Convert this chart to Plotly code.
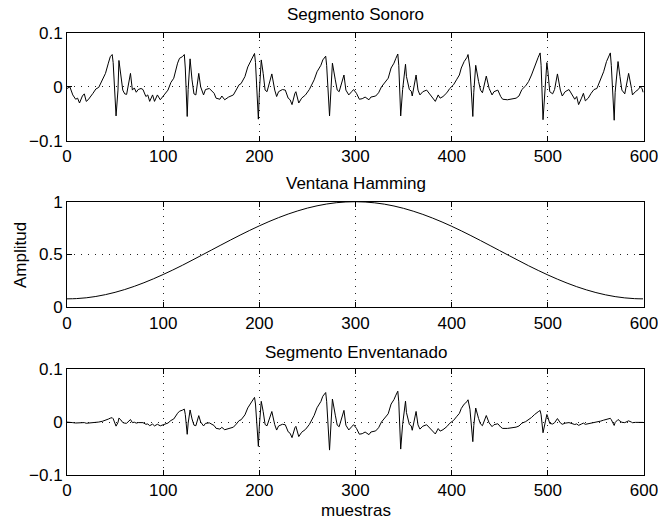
import plotly.graph_objects as go

# ---------------- data ----------------
muestras = [
    0, 3, 6, 9, 11, 13, 16, 18, 20, 22,
    27, 30, 33, 37, 40, 43, 45, 47, 48, 51,
    53, 54, 56, 58, 60, 62, 66, 68, 70, 72,
    74, 77, 79, 82, 84, 86, 89, 91, 94, 97,
    101, 105, 108, 111, 115, 117, 120, 122, 123, 125,
    126, 128, 130, 132, 134, 137, 139, 142, 144, 148,
    153, 155, 159, 161, 164, 168, 173, 176, 179, 181,
    185, 188, 191, 193, 195, 196, 199, 200, 202, 204,
    206, 208, 210, 213, 216, 218, 220, 224, 227, 230,
    232, 234, 237, 238, 241, 244, 248, 252, 257, 260,
    264, 266, 269, 270, 273, 274, 276, 279, 281, 283,
    288, 290, 293, 296, 298, 301, 304, 307, 310, 314,
    316, 321, 324, 327, 331, 334, 337, 340, 342, 344,
    345, 347, 349, 352, 353, 356, 358, 359, 363, 365,
    367, 370, 374, 378, 381, 383, 386, 388, 391, 395,
    398, 402, 405, 408, 410, 413, 416, 417, 419, 422,
    423, 425, 428, 430, 432, 436, 439, 442, 444, 448,
    451, 453, 458, 463, 467, 470, 473, 477, 480, 483,
    486, 488, 490, 492, 493, 495, 497, 499, 500, 502,
    505, 507, 510, 513, 515, 518, 522, 525, 528, 530,
    532, 535, 537, 539, 542, 545, 548, 551, 555, 558,
    561, 563, 565, 566, 569, 570, 573, 575, 577, 580,
    584, 587, 588, 591, 594, 596, 598, 599,
]

segmento_sonoro = [
    -0.003, 0.000, -0.015, -0.023, -0.021, -0.030, -0.017, -0.013, -0.027, -0.024,
    -0.012, -0.004, -0.001, 0.013, 0.025, 0.044, 0.056, 0.060, 0.045, -0.054,
    -0.006, 0.049, 0.025, -0.006, -0.013, -0.014, 0.025, -0.006, -0.002, -0.010,
    -0.005, -0.003, -0.005, -0.018, -0.015, -0.027, -0.015, -0.027, -0.015, -0.024,
    -0.015, -0.006, 0.008, 0.016, 0.044, 0.053, 0.056, 0.060, 0.035, -0.055,
    -0.005, 0.052, 0.013, -0.013, -0.015, 0.025, 0.000, -0.015, -0.005, -0.003,
    -0.012, -0.021, -0.023, -0.017, -0.024, -0.019, -0.015, -0.006, 0.004, 0.006,
    0.019, 0.037, 0.047, 0.053, 0.062, 0.045, -0.060, -0.010, 0.050, 0.025,
    -0.006, -0.009, 0.006, 0.024, -0.006, -0.018, -0.009, -0.005, -0.006, -0.021,
    -0.024, -0.033, -0.012, -0.009, -0.030, -0.021, -0.015, -0.005, 0.013, 0.028,
    0.040, 0.050, 0.057, 0.040, -0.054, -0.010, 0.044, 0.013, -0.006, -0.009,
    0.022, -0.006, -0.015, -0.009, -0.005, -0.012, -0.023, -0.022, -0.019, -0.024,
    -0.019, -0.017, -0.011, 0.000, 0.008, 0.016, 0.035, 0.044, 0.053, 0.061,
    0.040, -0.054, -0.005, 0.042, 0.019, -0.005, -0.008, -0.017, 0.022, -0.006,
    -0.015, -0.009, -0.006, -0.015, -0.024, -0.027, -0.015, -0.021, -0.018, -0.011,
    -0.003, 0.004, 0.013, 0.022, 0.035, 0.047, 0.055, 0.060, 0.035, -0.055,
    -0.010, 0.040, 0.010, -0.006, -0.011, 0.020, -0.003, -0.015, -0.009, -0.006,
    -0.018, -0.023, -0.024, -0.023, -0.021, -0.017, -0.005, 0.002, 0.010, 0.022,
    0.037, 0.048, 0.055, 0.063, 0.040, -0.061, -0.005, 0.045, 0.030, -0.009,
    -0.013, -0.005, 0.024, -0.006, -0.017, -0.009, -0.005, -0.015, -0.023, -0.018,
    -0.033, -0.021, -0.012, -0.026, -0.021, -0.012, -0.005, -0.003, 0.013, 0.028,
    0.047, 0.056, 0.063, 0.040, -0.062, -0.010, 0.047, 0.019, -0.006, -0.013,
    0.025, -0.003, -0.015, -0.009, -0.005, 0.000, -0.003, -0.010,
]

segmento_enventanado = [
    -0.0002, 0.0000, -0.0012, -0.0019, -0.0017, -0.0025, -0.0015, -0.0011, -0.0024, -0.0022,
    -0.0012, -0.0004, -0.0001, 0.0015, 0.0030, 0.0055, 0.0073, 0.0081, 0.0062, -0.0078,
    -0.0009, 0.0074, 0.0039, -0.0010, -0.0022, -0.0024, 0.0047, -0.0012, -0.0004, -0.0021,
    -0.0011, -0.0007, -0.0012, -0.0043, -0.0037, -0.0069, -0.0040, -0.0074, -0.0043, -0.0072,
    -0.0047, -0.0020, 0.0028, 0.0057, 0.0165, 0.0204, 0.0223, 0.0244, 0.0144, -0.0232,
    -0.0021, 0.0227, 0.0058, -0.0059, -0.0070, 0.0120, 0.0000, -0.0075, -0.0026, -0.0016,
    -0.0067, -0.0119, -0.0134, -0.0101, -0.0146, -0.0119, -0.0098, -0.0040, 0.0027, 0.0041,
    0.0134, 0.0266, 0.0345, 0.0393, 0.0465, 0.0339, -0.0460, -0.0077, 0.0390, 0.0197,
    -0.0048, -0.0072, 0.0049, 0.0198, -0.0050, -0.0152, -0.0076, -0.0043, -0.0052, -0.0185,
    -0.0213, -0.0295, -0.0108, -0.0082, -0.0275, -0.0194, -0.0140, -0.0047, 0.0124, 0.0269,
    0.0387, 0.0486, 0.0556, 0.0391, -0.0530, -0.0098, 0.0434, 0.0129, -0.0059, -0.0089,
    0.0219, -0.0060, -0.0150, -0.0090, -0.0050, -0.0120, -0.0230, -0.0220, -0.0189, -0.0239,
    -0.0189, -0.0168, -0.0108, 0.0000, 0.0078, 0.0155, 0.0338, 0.0423, 0.0507, 0.0581,
    0.0380, -0.0511, -0.0047, 0.0393, 0.0177, -0.0046, -0.0074, -0.0156, 0.0199, -0.0054,
    -0.0134, -0.0079, -0.0052, -0.0128, -0.0203, -0.0226, -0.0124, -0.0172, -0.0145, -0.0087,
    -0.0023, 0.0030, 0.0098, 0.0162, 0.0255, 0.0337, 0.0386, 0.0419, 0.0241, -0.0371,
    -0.0067, 0.0264, 0.0065, -0.0038, -0.0069, 0.0122, -0.0018, -0.0087, -0.0051, -0.0033,
    -0.0096, -0.0121, -0.0121, -0.0110, -0.0097, -0.0076, -0.0022, 0.0008, 0.0040, 0.0085,
    0.0138, 0.0174, 0.0194, 0.0217, 0.0136, -0.0203, -0.0016, 0.0142, 0.0093, -0.0027,
    -0.0038, -0.0014, 0.0065, -0.0016, -0.0043, -0.0022, -0.0011, -0.0032, -0.0047, -0.0036,
    -0.0064, -0.0038, -0.0021, -0.0044, -0.0034, -0.0019, -0.0007, -0.0004, 0.0017, 0.0035,
    0.0055, 0.0064, 0.0069, 0.0043, -0.0065, -0.0010, 0.0047, 0.0018, -0.0006, -0.0012,
    0.0022, -0.0003, -0.0013, -0.0007, -0.0004, 0.0000, -0.0002, -0.0008,
]

ventana_n = [
    0, 10, 20, 30, 40, 50, 60, 70, 80, 90,
    100, 110, 120, 130, 140, 150, 160, 170, 180, 190,
    200, 210, 220, 230, 240, 250, 260, 270, 280, 290,
    300, 310, 320, 330, 340, 350, 360, 370, 380, 390,
    400, 410, 420, 430, 440, 450, 460, 470, 480, 490,
    500, 510, 520, 530, 540, 550, 560, 570, 580, 590,
    599,
]
ventana_hamming = [
    0.0800, 0.0825, 0.0900, 0.1026, 0.1199, 0.1418, 0.1681, 0.1985, 0.2327, 0.2701,
    0.3105, 0.3532, 0.3980, 0.4454, 0.4930, 0.5412, 0.5893, 0.6369, 0.6835, 0.7285,
    0.7713, 0.8117, 0.8491, 0.8831, 0.9132, 0.9395, 0.9610, 0.9782, 0.9904, 0.9977,
    1.0000, 0.9972, 0.9893, 0.9768, 0.9592, 0.9370, 0.9104, 0.8798, 0.8455, 0.8079,
    0.7672, 0.7241, 0.6789, 0.6321, 0.5845, 0.5364, 0.4882, 0.4409, 0.3936, 0.3490,
    0.3064, 0.2663, 0.2292, 0.1953, 0.1654, 0.1395, 0.1181, 0.1012, 0.0892, 0.0820,
    0.0800,
]

x_ticks = [0, 100, 200, 300, 400, 500, 600]
y_ticks_seg = [-0.1, 0, 0.1]
y_text_seg = ["\u22120.1", "0", "0.1"]
y_ticks_win = [0, 0.5, 1]
y_text_win = ["0", "0.5", "1"]

assert len(muestras) == len(segmento_sonoro) == len(segmento_enventanado)
assert len(ventana_n) == len(ventana_hamming)

# ---------------- figure ----------------
FONT = "Liberation Sans, Arial, Helvetica, sans-serif"
FS = 17
line = dict(color="black", width=1)

fig = go.Figure()
fig.add_trace(go.Scatter(x=muestras, y=segmento_sonoro, mode="lines", line=line,
                         xaxis="x", yaxis="y", showlegend=False, hoverinfo="skip"))
fig.add_trace(go.Scatter(x=ventana_n, y=ventana_hamming, mode="lines",
                         line=dict(color="black", width=1, shape="spline"),
                         xaxis="x2", yaxis="y2", showlegend=False, hoverinfo="skip"))
fig.add_trace(go.Scatter(x=muestras, y=segmento_enventanado, mode="lines", line=line,
                         xaxis="x3", yaxis="y3", showlegend=False, hoverinfo="skip"))

common = dict(
    showline=True, linecolor="black", linewidth=1, mirror="ticks",
    ticks="inside", ticklen=5, tickwidth=1, tickcolor="black",
    showgrid=True, gridcolor="#222", gridwidth=1, griddash="1px,6px",
    zeroline=False, tickfont=dict(family=FONT, size=FS, color="black"),
    ticklabeloverflow="allow", automargin=False,
)

d_top = [(475 - 140.7) / 442, 1.0]
d_mid = [(475 - 307.3) / 442, (475 - 201.7) / 442]
d_bot = [0.0, (475 - 369) / 442]

xa = dict(common, range=[0, 600], tickvals=x_ticks, ticktext=[str(v) for v in x_ticks])
fig.update_layout(
    xaxis=dict(xa, domain=[0, 1], anchor="y"),
    yaxis=dict(common, range=[-0.1, 0.1], tickvals=y_ticks_seg, ticktext=y_text_seg,
               domain=d_top, anchor="x"),
    xaxis2=dict(xa, domain=[0, 1], anchor="y2"),
    yaxis2=dict(common, range=[0, 1], tickvals=y_ticks_win, ticktext=y_text_win,
                domain=d_mid, anchor="x2"),
    xaxis3=dict(xa, domain=[0, 1], anchor="y3"),
    yaxis3=dict(common, range=[-0.1, 0.1], tickvals=y_ticks_seg, ticktext=y_text_seg,
                domain=d_bot, anchor="x3"),
    width=658, height=523,
    margin=dict(l=67, r=14, t=33, b=48, pad=0, autoexpand=False),
    paper_bgcolor="white", plot_bgcolor="white",
    font=dict(family=FONT, size=FS, color="black"),
)


def ypx(py):
    return (475 - py) / 442


ann = [
    dict(text="Segmento Sonoro", x=0.5, y=ypx(15)),
    dict(text="Ventana Hamming", x=0.5, y=ypx(183)),
    dict(text="Segmento Enventanado", x=0.5, y=ypx(352)),
    dict(text="muestras", x=0.5, y=ypx(511)),
    dict(text="Amplitud", x=(20 - 67) / 577, y=ypx(255), textangle=-90),
]
for a in ann:
    fig.add_annotation(xref="paper", yref="paper", showarrow=False,
                       xanchor="center", yanchor="middle",
                       font=dict(family=FONT, size=FS, color="black"), **a)

fig.write_html("out.html")
